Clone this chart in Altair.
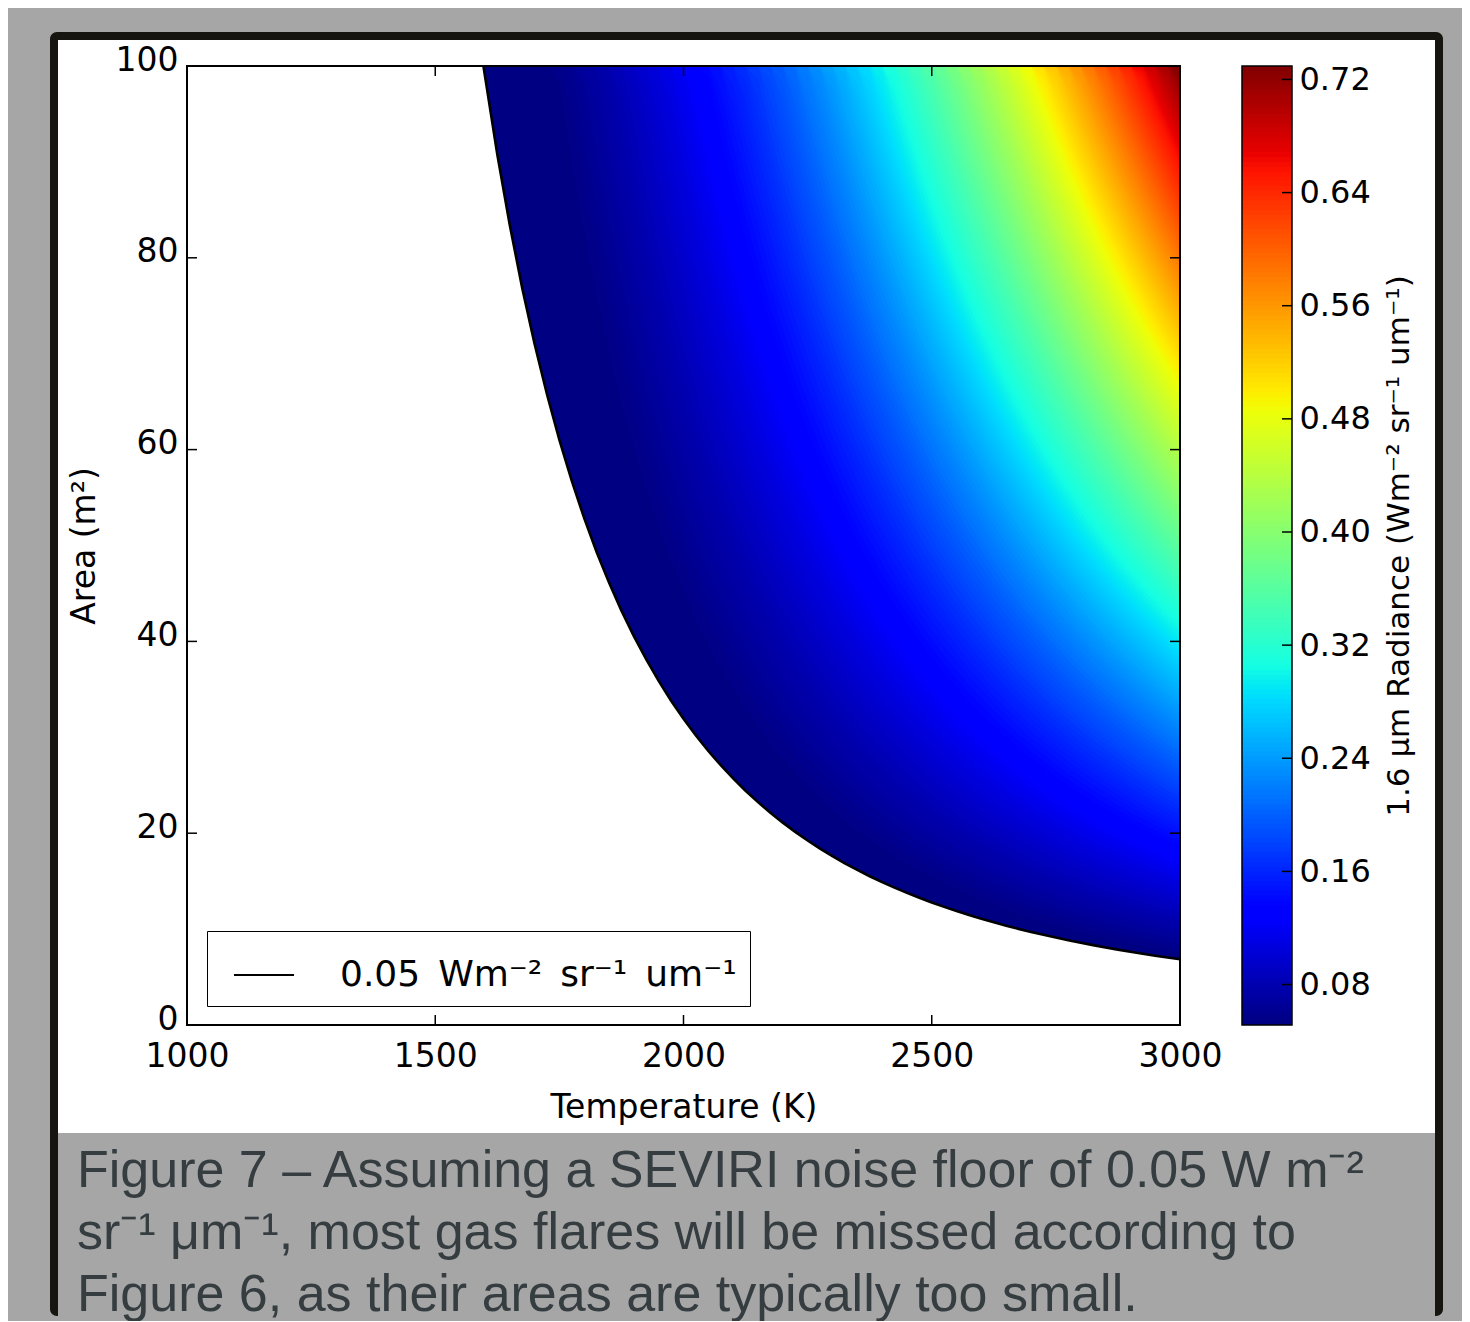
import altair as alt
import pandas as pd
import numpy as np

# ---------------- data ----------------
# temperatures (K) of the read columns
temps = [1600, 1625, 1650, 1675, 1700, 1725, 1750, 1775, 1800, 1825, 1850, 1875,
         1900, 1925, 1950, 1975, 2000, 2025, 2050, 2075, 2100, 2125, 2150, 2175,
         2200, 2225, 2250, 2275, 2300, 2325, 2350, 2375, 2400, 2425, 2450, 2475,
         2500, 2525, 2550, 2575, 2600, 2625, 2650, 2675, 2700, 2725, 2750, 2775,
         2800, 2825, 2850, 2875, 2900, 2925, 2950, 2975, 3000]
# area (m2) of the black 0.05 contour at those temperatures
area_at_005 = [99.0, 90.77, 83.45, 76.89, 71.03, 65.77, 61.01, 56.73, 52.85, 49.33,
               46.13, 43.21, 40.55, 38.12, 35.88, 33.82, 31.93, 30.19, 28.57, 27.09,
               25.71, 24.42, 23.24, 22.13, 21.10, 20.14, 19.24, 18.39, 17.60, 16.86,
               16.17, 15.51, 14.90, 14.33, 13.78, 13.27, 12.78, 12.32, 11.88, 11.47,
               11.08, 10.71, 10.36, 10.02, 9.70, 9.41, 9.12, 8.84, 8.57, 8.33,
               8.09, 7.86, 7.64, 7.43, 7.23, 7.04, 6.85]
# radiance (colour) read along the top edge of the plot (area = 100 m2)
radiance_at_100 = [0.0313, 0.0347, 0.0384, 0.0423, 0.0465, 0.0510, 0.0558, 0.0609,
                   0.0662, 0.0719, 0.0779, 0.0842, 0.0908, 0.0978, 0.1051, 0.1127,
                   0.1207, 0.1290, 0.1377, 0.1467, 0.1561, 0.1658, 0.1759, 0.1863,
                   0.1971, 0.2083, 0.2199, 0.2318, 0.2440, 0.2567, 0.2697, 0.2831,
                   0.2968, 0.3109, 0.3253, 0.3402, 0.3553, 0.3709, 0.3867, 0.4030,
                   0.4196, 0.4365, 0.4537, 0.4714, 0.4893, 0.5076, 0.5263, 0.5452,
                   0.5645, 0.5841, 0.6040, 0.6242, 0.6448, 0.6656, 0.6868, 0.7082,
                   0.7300]
contour_top_temp = 1597          # where the contour leaves the top of the plot

x_ticks = [1000, 1500, 2000, 2500, 3000]
y_ticks = [0, 20, 40, 60, 80, 100]
cbar_ticks = [0.08, 0.16, 0.24, 0.32, 0.40, 0.48, 0.56, 0.64, 0.72]
rad_min, rad_max = 0.0514, 0.7295

legend_label = "0.05\u2002Wm\u207b\u00b2\u2002sr\u207b\u00b9\u2002um\u207b\u00b9"
x_title = "Temperature (K)"
y_title = "Area (m\u00b2)"
cbar_title = "1.6 \u03bcm Radiance (Wm\u207b\u00b2 sr\u207b\u00b9 um\u207b\u00b9)"
caption_lines = [
    "Figure 7 \u2013 Assuming a SEVIRI noise floor of 0.05 W m\u207b\u00b2",
    "sr\u207b\u00b9 \u03bcm\u207b\u00b9, most gas flares will be missed according to",
    "Figure 6, as their areas are typically too small.",
]

# jet colour map
jet_pos = [0.0, 0.11, 0.125, 0.34, 0.35, 0.375, 0.64, 0.65, 0.66, 0.89, 0.91, 1.0]
jet_hex = ["#000080", "#0000ff", "#0000ff", "#00dbff", "#00e5f7", "#15ffe2",
           "#eeff08", "#f7f600", "#ffec00", "#ff1300", "#e80000", "#800000"]

# ---------------- tables ----------------
W, H = 993, 959
n_levels = 200
level_edges = np.linspace(rad_min, rad_max, n_levels + 1)
step = level_edges[1] - level_edges[0]
bands = []
for k, c in enumerate(level_edges[:-1]):
    for t, rt in zip(temps, radiance_at_100):
        lo = 0.0 if k == 0 else min(100.0, 100.0 * c / rt)
        bands.append({"lev": k, "T": t, "A": lo, "A2": 100.0, "rad": c + step / 2})
band_df = pd.DataFrame(bands)

curve_df = pd.DataFrame({"T": [contour_top_temp] + temps,
                         "A": [100.0] + area_at_005})
curve_df["series"] = legend_label
mask_df = pd.DataFrame({"T": [1000] + list(curve_df["T"]),
                        "A": [100.0] + list(curve_df["A"])})

cb_df = pd.DataFrame({"v": level_edges[:-1],
                      "v2": np.minimum(level_edges[1:] + 0.002, rad_max),
                      "rad": level_edges[:-1] + step / 2})

one = pd.DataFrame({"k": [0]})

# ---------------- scales / axes ----------------
FONT = "DejaVu Sans"
xs = alt.Scale(domain=[1000, 3000], nice=False, zero=False)
ys = alt.Scale(domain=[0, 100], nice=False)
color_scale = alt.Scale(type="linear",
                        domain=[rad_min + p * (rad_max - rad_min) for p in jet_pos],
                        range=jet_hex, clamp=True, interpolate="rgb")

common_axis = dict(ticks=False, tickSize=0, domain=False, grid=False, zindex=1,
                   labelFont=FONT, titleFont=FONT, labelColor="black",
                   titleColor="black", titleFontWeight="normal",
                   labelFlush=False, labelOverlap=False)
x_axis = alt.Axis(values=x_ticks, format="d", title=x_title, labelFontSize=33,
                  titleFontSize=33, labelPadding=15, titlePadding=18, **common_axis)
y_axis = alt.Axis(values=y_ticks, format="d", title=y_title, labelFontSize=33,
                  titleFontSize=33, labelPadding=9, titlePadding=14,
                  labelOffset=-6, **common_axis)
cb_axis = alt.Axis(orient="right", offset=112, values=cbar_ticks, format=".2f",
                   title=cbar_title, labelFontSize=32, titleFontSize=31,
                   labelPadding=7, titlePadding=14, titleAngle=270,
                   titleBaseline="top", **common_axis)

# ---------------- page decoration ----------------
def box(x0, x1, y0, y1, color, **kw):
    return alt.Chart(one).mark_rect(color=color, **kw).encode(
        x=alt.value(x0), x2=alt.value(x1), y=alt.value(y0), y2=alt.value(y1))

bg = box(-179, 1275, -58, 1242, "#a6a6a6")
frame = box(-137, 1256, -34, 1250, "#16150f", cornerRadius=7)
panel = box(-129, 1248, -26, 1067, "#ffffff")
band = box(-129, 1248, 1067, 1250, "#a6a6a6")

# ---------------- main plot ----------------
heat = alt.Chart(band_df).mark_area(clip=True).encode(
    x=alt.X("T:Q", scale=xs, axis=x_axis),
    y=alt.Y("A:Q", scale=ys, axis=y_axis, stack=None), y2="A2:Q",
    color=alt.Color("rad:Q", scale=color_scale, legend=None),
    detail="lev:Q")

mask = alt.Chart(mask_df).mark_area(color="white", clip=True).encode(
    x="T:Q", y=alt.Y("A:Q", stack=None))

line = alt.Chart(curve_df).mark_line(strokeWidth=2.6, clip=True).encode(
    x="T:Q", y="A:Q",
    stroke=alt.Stroke("series:N", scale=alt.Scale(range=["black"]),
                      legend=alt.Legend(title=None, orient="none", legendX=20,
                                        legendY=865, padding=13,
                                        strokeColor="black", fillColor="white",
                                        symbolType="stroke", symbolSize=3600,
                                        symbolStrokeWidth=2, symbolOffset=13,
                                        labelOffset=45, labelFont=FONT,
                                        labelFontSize=36, labelColor="black",
                                        labelLimit=1000)))

xt = pd.DataFrame({"T": x_ticks})
yt = pd.DataFrame({"A": y_ticks})
tick_kw = dict(color="black", strokeWidth=1.5)
t_bottom = alt.Chart(xt).mark_rule(**tick_kw).encode(
    x="T:Q", y=alt.value(H), y2=alt.value(H - 10))
t_top = alt.Chart(xt).mark_rule(**tick_kw).encode(
    x="T:Q", y=alt.value(0), y2=alt.value(10))
t_left = alt.Chart(yt).mark_rule(**tick_kw).encode(
    y="A:Q", x=alt.value(0), x2=alt.value(10))
t_right = alt.Chart(yt).mark_rule(**tick_kw).encode(
    y="A:Q", x=alt.value(W - 10), x2=alt.value(W))
spine = alt.Chart(one).mark_rect(fillOpacity=0, stroke="black", strokeWidth=2).encode(
    x=alt.value(0), x2=alt.value(W), y=alt.value(0), y2=alt.value(H))

main = alt.layer(heat, mask, line, t_bottom, t_top, t_left, t_right, spine)

# ---------------- colour bar ----------------
cb_ys = alt.Scale(domain=[rad_min, rad_max], nice=False, zero=False)
cb_rect = alt.Chart(cb_df).mark_rect().encode(
    x=alt.value(1055), x2=alt.value(1105),
    y=alt.Y("v:Q", scale=cb_ys, axis=cb_axis), y2="v2:Q",
    color=alt.Color("rad:Q", scale=color_scale, legend=None))
cb_tick = alt.Chart(pd.DataFrame({"v": cbar_ticks})).mark_rule(**tick_kw).encode(
    y="v:Q", x=alt.value(1095), x2=alt.value(1105))
cb_border = alt.Chart(one).mark_rect(fillOpacity=0, stroke="black", strokeWidth=1.5).encode(
    x=alt.value(1055), x2=alt.value(1105), y=alt.value(0), y2=alt.value(H))
cbar = alt.layer(cb_rect, cb_tick, cb_border)

# ---------------- caption ----------------
caption = []
for i, txt in enumerate(caption_lines):
    caption.append(
        alt.Chart(pd.DataFrame({"line": [txt]})).mark_text(
            align="left", baseline="alphabetic", font="Liberation Sans",
            fontSize=52, color="#353d40").encode(
            x=alt.value(-110), y=alt.value(1121 + 62 * i), text="line:N"))

chart = alt.layer(bg, frame, panel, band, main, cbar, *caption).resolve_scale(
    y="independent"
).properties(width=W, height=H, padding=0).configure(
    background="#a6a6a6"
).configure_view(stroke=None)

chart.save("out.html", embed_options={"renderer": "svg", "actions": False})
